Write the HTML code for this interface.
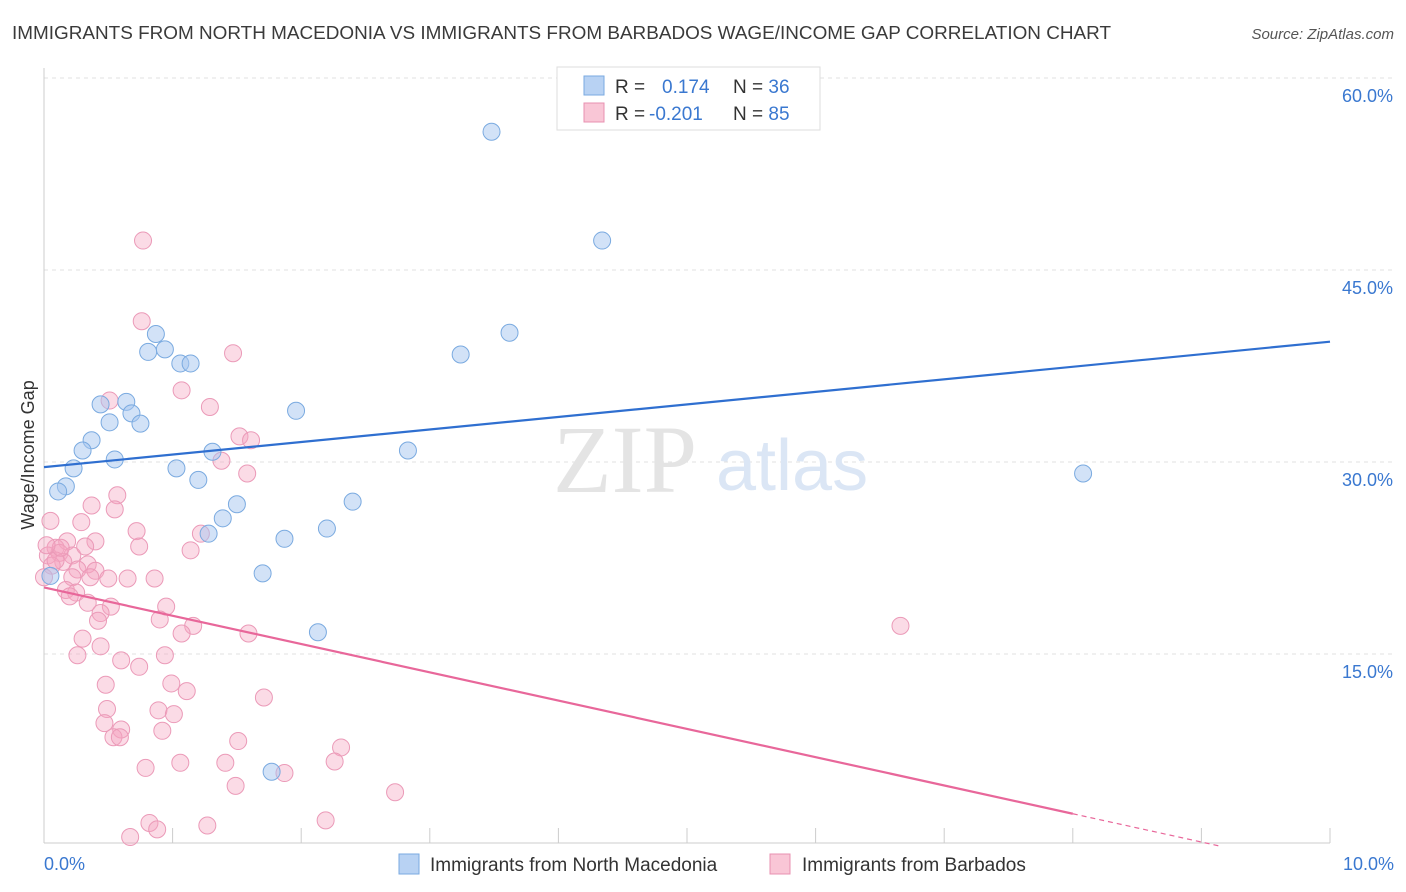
<!DOCTYPE html>
<html><head><meta charset="utf-8"><style>
body{margin:0;background:#fff;font-family:"Liberation Sans",sans-serif;}
svg{display:block}
</style></head><body>
<svg id="chart" width="1406" height="892">
<text x="12" y="39" font-size="18" fill="#3a3a3a" textLength="1099" lengthAdjust="spacingAndGlyphs">IMMIGRANTS FROM NORTH MACEDONIA VS IMMIGRANTS FROM BARBADOS WAGE/INCOME GAP CORRELATION CHART</text>
<text x="1394" y="39" font-size="15" fill="#555" font-style="italic" text-anchor="end">Source: ZipAtlas.com</text>
<g id="grid"></g>
<g id="axes"></g>
<text x="553" y="492" font-size="96" fill="#e4e4e4" font-family="Liberation Serif,serif">ZIP</text>
<text x="716" y="490" font-size="72" fill="#dbe6f5">atlas</text>
<g id="pts"></g>
<g id="lines"></g>
<g>
<rect x="557" y="67" width="263" height="63" fill="#fff" stroke="#ddd"/>
<rect x="584" y="76" width="20" height="19" fill="#b8d2f3" stroke="#7aaae0"/>
<rect x="584" y="103" width="20" height="19" fill="#f9c6d6" stroke="#e890b0"/>
<text x="615" y="93" font-size="19" fill="#333">R = <tspan fill="#3a78d0" x="662">0.174</tspan><tspan fill="#333" x="733">N = </tspan><tspan fill="#3a78d0">36</tspan></text>
<text x="615" y="120" font-size="19" fill="#333">R = <tspan fill="#3a78d0" x="649">-0.201</tspan><tspan fill="#333" x="733">N = </tspan><tspan fill="#3a78d0">85</tspan></text>
</g>
<g>
<rect x="399" y="854" width="20" height="20" fill="#b8d2f3" stroke="#7aaae0"/>
<text x="430" y="871" font-size="19" fill="#333">Immigrants from North Macedonia</text>
<rect x="770" y="854" width="20" height="20" fill="#f9c6d6" stroke="#e890b0"/>
<text x="802" y="871" font-size="19" fill="#333">Immigrants from Barbados</text>
</g>
<text transform="translate(34,455) rotate(-90)" font-size="18" fill="#333" text-anchor="middle">Wage/Income Gap</text>
</svg>
<script>
const blueX=[3.48,4.34,0.87,3.62,0.81,0.94,1.06,1.14,3.24,0.44,0.64,0.68,0.51,0.75,1.96,0.37,0.30,2.83,0.55,1.31,0.23,1.03,1.20,0.17,0.11,8.08,1.50,2.40,1.39,2.20,1.28,1.87,1.70,2.13,1.77,0.05];
const blueY=[55.8,47.3,40.0,40.1,38.6,38.8,37.7,37.7,38.4,34.5,34.7,33.8,33.1,33.0,34.0,31.7,30.9,30.9,30.2,30.8,29.5,29.5,28.6,28.1,27.7,29.1,26.7,26.9,25.6,24.8,24.4,24.0,21.3,16.7,5.8,21.1];
const pinkX=[0.77,0.76,1.47,1.07,0.51,1.29,1.52,1.61,1.38,1.58,0.57,0.37,0.55,0.05,0.29,0.72,1.22,0.40,0.74,0.18,0.09,0.12,0.03,0.22,0.15,0.06,0.34,0.40,0.26,0.22,0.65,0.86,1.14,0.17,0.25,0.34,0.52,0.95,0.44,0.42,0.90,1.16,1.07,1.59,0.30,0.44,0.26,0.94,0.60,0.74,0.99,0.48,1.11,1.71,0.49,0.89,1.01,0.47,0.60,0.92,0.54,0.59,1.51,2.31,2.26,1.06,1.41,0.79,1.87,1.49,2.73,2.19,0.82,0.88,0.67,1.27,6.66,0.00,0.09,0.13,0.32,0.36,0.20,0.50,0.02];
const pinkY=[47.3,41.0,38.5,35.6,34.8,34.3,32.0,31.7,30.1,29.1,27.4,26.6,26.3,25.4,25.3,24.6,24.4,23.8,23.4,23.8,23.3,22.9,22.7,22.7,22.2,21.9,22.0,21.5,21.6,21.0,20.9,20.9,23.1,20.0,19.8,19.0,18.7,18.7,18.2,17.6,17.7,17.2,16.6,16.6,16.2,15.6,14.9,14.9,14.5,14.0,12.7,12.6,12.1,11.6,10.7,10.6,10.3,9.6,9.1,9.0,8.5,8.5,8.2,7.7,6.6,6.5,6.5,6.1,5.7,4.7,4.2,2.0,1.8,1.3,0.7,1.6,17.2,21.0,22.3,23.3,23.4,21.0,19.5,20.9,23.5];
const yTicks=[15,30,45,60];
const yTickLabels=["15.0%","30.0%","45.0%","60.0%"];
const xTickLabels=["0.0%","10.0%"];
const blueTrend=[29.6,39.4];
const pinkTrend=[20.2,-1.9];
const NS='http://www.w3.org/2000/svg';
const X=v=>44+v*128.6, Y=v=>846-v*12.8;
function mk(t,a,p){const e=document.createElementNS(NS,t);for(const k in a)e.setAttribute(k,a[k]);p.appendChild(e);return e;}
const grid=document.getElementById('grid'),axes=document.getElementById('axes');
yTicks.forEach((t,i)=>{
 const l=mk('line',{x1:44,x2:1394,y1:Y(t),y2:Y(t),stroke:'#e2e2e2','stroke-dasharray':'4,4'},grid);
 
 
 const tx=mk('text',{x:1393,y:Y(t)+24,'font-size':18,fill:'#3a78d0','text-anchor':'end'},axes);
 tx.textContent=yTickLabels[i];
 
 
});
mk('line',{x1:44,x2:44,y1:68,y2:843,stroke:'#ccc'},axes);
mk('line',{x1:44,x2:1330,y1:843,y2:843,stroke:'#ccc'},axes);
for(let i=0;i<=10;i++){const t=mk('line',{x1:X(i),x2:X(i),y1:828,y2:843,stroke:'#ccc'},axes);
 
 }
[[0,'start',44],[10,'end',1394]].forEach((d,i)=>{const tx=mk('text',{x:d[2],y:870,'font-size':18,fill:'#3a78d0','text-anchor':d[1]},axes);
 tx.textContent=xTickLabels[i];
 
 });
const pts=document.getElementById('pts');
pinkX.forEach((x,i)=>{const c=mk('circle',{cx:X(x),cy:Y(pinkY[i]),r:8.5,fill:'rgba(245,165,192,0.4)',stroke:'#eb9ab8','stroke-width':1},pts);
 
 });
blueX.forEach((x,i)=>{const c=mk('circle',{cx:X(x),cy:Y(blueY[i]),r:8.5,fill:'rgba(165,198,240,0.5)',stroke:'#7aaae0','stroke-width':1},pts);
 
 });
const lines=document.getElementById('lines');
const bl=mk('line',{x1:X(0),y1:Y(blueTrend[0]),x2:X(10),y2:Y(blueTrend[1]),stroke:'#2f6fd0','stroke-width':2.2},lines);


const slope=(pinkTrend[1]-pinkTrend[0])/10, xEnd=-pinkTrend[0]/slope, xSolid=8.0;
const pl=mk('line',{x1:X(0),y1:Y(pinkTrend[0]),x2:X(xSolid),y2:Y(pinkTrend[0]+slope*xSolid),stroke:'#e8679a','stroke-width':2.2},lines);


const xe=Math.min(xEnd,10);
const pd=mk('line',{x1:X(xSolid),y1:Y(pinkTrend[0]+slope*xSolid),x2:X(xe),y2:Y(pinkTrend[0]+slope*xe),stroke:'#e8679a','stroke-width':1.2,'stroke-dasharray':'5,4'},lines);


</script>
</body></html>
